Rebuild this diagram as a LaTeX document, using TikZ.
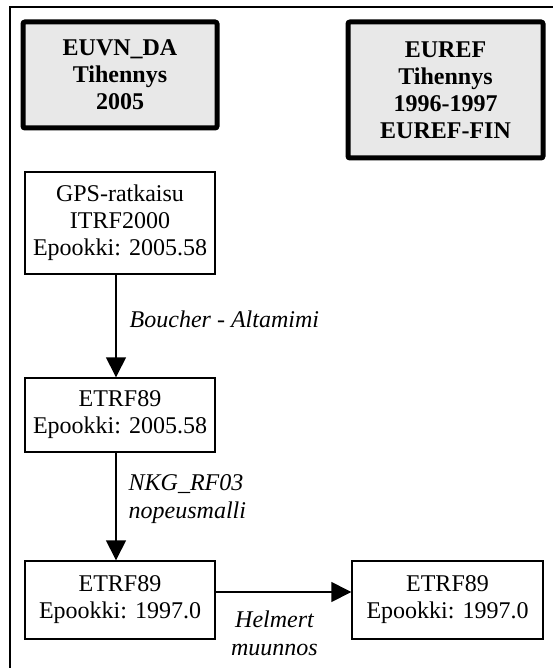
\documentclass[tikz,border=0pt]{standalone}
\usepackage{fontspec}
\setmainfont{Liberation Serif}
\usetikzlibrary{arrows.meta}
\definecolor{boxgray}{HTML}{E8E8E8}
\begin{document}
\begin{tikzpicture}[x=1pt,y=-1pt,
  every node/.style={font=\fontsize{24}{27}\selectfont, inner sep=0pt},
  headbox/.style={draw, line width=5pt, rounded corners=2pt, fill=boxgray, align=center, font=\fontsize{24}{27}\selectfont\bfseries},
  stepbox/.style={draw, line width=1.4pt, align=center, fill=white},
  conn/.style={line width=1.4pt, -{Triangle[length=20pt,width=20pt]}},
  lbl/.style={font=\fontsize{24}{28}\selectfont\itshape, align=left}
]
\useasboundingbox (0,0) rectangle (552,668);
% frame
\draw[line width=2pt] (10,670) -- (10,7) -- (554,7);
% header boxes
\node[headbox, minimum width=194pt, minimum height=106pt] (A) at (120,75) {EUVN\_DA\\Tihennys\\2005};
\node[headbox, minimum width=195pt, minimum height=136pt] (B) at (445.5,90) {EUREF\\Tihennys\\1996-1997\\EUREF-FIN};
% step boxes
\node[stepbox, minimum width=190pt, minimum height=102pt] (C) at (120,223) {GPS-ratkaisu\\ITRF2000\\Epookki: 2005.58};
\node[stepbox, minimum width=190pt, minimum height=74pt] (D) at (120,415) {ETRF89\\Epookki: 2005.58};
\node[stepbox, minimum width=190pt, minimum height=78pt] (E) at (120,600) {ETRF89\\Epookki: 1997.0};
\node[stepbox, minimum width=191pt, minimum height=78pt] (F) at (447.5,600) {ETRF89\\Epookki: 1997.0};
% connectors
\draw[conn] ([xshift=-4pt]C.south) -- ([xshift=-4pt]D.north)
  node[lbl, pos=0.43, anchor=west, xshift=13pt] (L1) {Boucher - Altamimi};
\draw[conn] ([xshift=-4pt]D.south) -- ([xshift=-4pt]E.north)
  node[lbl, pos=0.43, anchor=west, xshift=12pt] (L2) {NKG\_RF03\\nopeusmalli};
\draw[conn] ([yshift=8pt]E.east) -- ([yshift=8pt]F.west)
  node[lbl, align=center, midway, anchor=north, xshift=-9pt, yshift=-18pt] (L3) {Helmert\\muunnos};
\end{tikzpicture}
\end{document}
